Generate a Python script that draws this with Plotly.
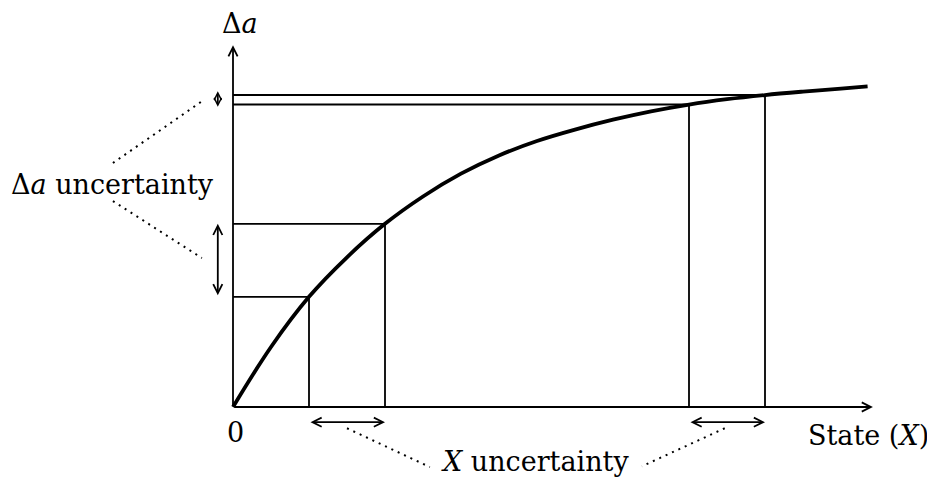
import plotly.graph_objects as go

# curve (state units, delta-a units)
curve_x = [0, 0.5, 1, 1.5, 2, 2.5, 3, 3.5, 4, 4.5, 5, 5.5, 6, 6.5, 7, 7.5, 8, 8.35]
curve_y = [0, 0.79, 1.45, 1.97, 2.41, 2.77, 3.07, 3.31, 3.50, 3.65, 3.78, 3.89,
           3.98, 4.05, 4.105, 4.15, 4.19, 4.22]

# the two uncertainty intervals on the state axis
interval_lo_x = [1, 6]
interval_hi_x = [2, 7]
interval_lo_y = [1.45, 3.98]
interval_hi_y = [2.41, 4.105]

x_axis_end = 8.42
y_axis_end = 4.76

W, H = 935, 478
PX = 76  # pixels per unit
OX, OY = 225, 399  # origin in pixels (page body adds 8px)

BLACK = "#000000"
FONT = "DejaVu Serif"

fig = go.Figure()

# guide lines from the axes to the curve
for lx, hx, ly, hy in zip(interval_lo_x, interval_hi_x, interval_lo_y, interval_hi_y):
    for gx, gy in ((lx, ly), (hx, hy)):
        fig.add_trace(go.Scatter(
            x=[0, gx, gx], y=[gy, gy, 0], mode="lines",
            line=dict(color=BLACK, width=1.8), hoverinfo="skip", showlegend=False,
        ))

# main curve
fig.add_trace(go.Scatter(
    x=curve_x, y=curve_y, mode="lines", line=dict(color=BLACK, width=3.8, shape="spline"),
    hoverinfo="skip", showlegend=False,
))

# dotted leader lines
leaders = [
    ([-1.58, -0.37], [3.21, 4.05]),
    ([-1.58, -0.41], [2.71, 1.96]),
    ([1.5, 2.59], [-0.28, -0.79]),
    ([6.47, 5.38], [-0.28, -0.78]),
]
for lx, ly in leaders:
    fig.add_trace(go.Scatter(
        x=lx, y=ly, mode="lines", line=dict(color=BLACK, width=2, dash="2px,5px"),
        hoverinfo="skip", showlegend=False,
    ))

anns = []

def arrow(x0, y0, x1, y1, both=False, size=1.0):
    anns.append(dict(
        x=x1, y=y1, ax=x0, ay=y0, xref="x", yref="y", axref="x", ayref="y",
        showarrow=True, arrowhead=5, arrowsize=size, arrowwidth=1.8,
        arrowcolor=BLACK, arrowside="end+start" if both else "end",
        startarrowhead=5, startarrowsize=size, text="",
    ))

# axes
arrow(0, 0, x_axis_end, 0)
arrow(0, 0, 0, y_axis_end)

# uncertainty arrows
for lx, hx in zip(interval_lo_x, interval_hi_x):
    arrow(lx, -0.2, hx, -0.2, both=True)
for ly, hy in zip(interval_lo_y, interval_hi_y):
    if hy - ly < 0.3:
        # tiny interval: heads poke out past the lines, as in the original
        arrow(-0.2, ly - 0.05, -0.2, hy + 0.05, both=True, size=0.8)
    else:
        arrow(-0.2, ly, -0.2, hy, both=True)

def label(txt, x, y, size=27):
    anns.append(dict(x=x, y=y, xref="x", yref="y", text=txt, showarrow=False,
                     font=dict(family=FONT, size=size, color=BLACK)))

label("Δ<i>a</i>", 0.09, 5.04)
label("Δ<i>a</i> uncertainty", -1.58, 2.93)
label("0", 0.03, -0.33)
label("State (<i>X</i>)", 8.36, -0.37)
label("<i>X</i> uncertainty", 3.97, -0.72)

fig.update_layout(
    width=W, height=H,
    margin=dict(l=0, r=0, t=0, b=0),
    paper_bgcolor="white", plot_bgcolor="white",
    xaxis=dict(range=[-OX / PX, (W - OX) / PX], visible=False, fixedrange=True),
    yaxis=dict(range=[(OY - H) / PX, OY / PX], visible=False, fixedrange=True),
    annotations=anns,
    showlegend=False,
)

fig.write_html("out.html")
